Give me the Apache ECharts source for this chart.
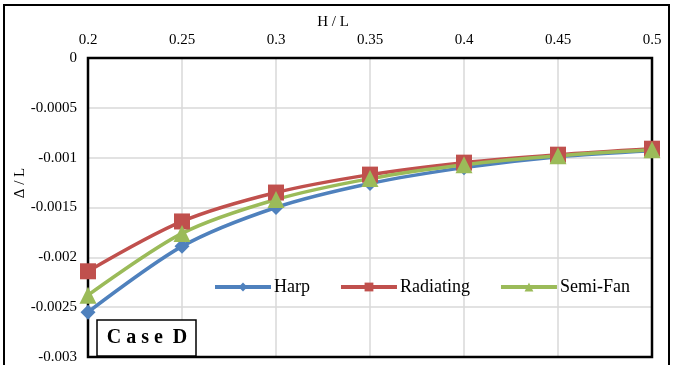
<!DOCTYPE html>
<html>
<head>
<meta charset="utf-8">
<script src="https://cdn.jsdelivr.net/npm/echarts@6/dist/echarts.min.js"></script>
<style>
  html, body { margin: 0; padding: 0; background: #fff; }
  #chart { width: 673px; height: 365px; }
</style>
</head>
<body>
<div id="chart"></div>
<script>
// H / L ratios and Δ / L values
const ratios = [0.2, 0.25, 0.3, 0.35, 0.4, 0.45, 0.5];
const harp = [-0.00255, -0.00189, -0.0015, -0.00126, -0.0011, -0.00099, -0.00093];
const radiating = [-0.00214, -0.00164, -0.00135, -0.00117, -0.00105, -0.00097, -0.00091];
const semiFan = [-0.00238, -0.00176, -0.00142, -0.00121, -0.00107, -0.00098, -0.00092];

const font = '"Liberation Serif", "DejaVu Serif", serif';
const pairs = (ys) => ratios.map((x, i) => [x, ys[i]]);

const chart = echarts.init(document.getElementById('chart'));

const mk = (name, data, color, symbol, size) => ({
  name,
  type: 'line',
  data: pairs(data),
  smooth: 0.3,
  symbol,
  symbolSize: size,
  lineStyle: { width: 3.5, color },
  itemStyle: { color },
  z: 3,
});

chart.setOption({
  animation: false,
  textStyle: { fontFamily: font },
  grid: { left: 88, right: 21, top: 58, bottom: 8 },
  legend: {
    left: 213, top: 278,
    itemWidth: 56, itemHeight: 11, itemGap: 29,
    lineStyle: { width: 4 },
    padding: 0,
    textStyle: { fontFamily: font, fontSize: 18, color: '#000', padding: [0, 0, 0, -2] },
    data: ['Harp', 'Radiating', 'Semi-Fan'],
  },
  xAxis: {
    type: 'value', position: 'top',
    min: 0.2, max: 0.5, interval: 0.05,
    axisLine: { show: false },
    axisTick: { show: false },
    axisLabel: {
      fontFamily: font, fontSize: 15, color: '#000', margin: 10,
      formatter: (v) => String(+v.toFixed(2)),
    },
    splitLine: { lineStyle: { color: '#d9d9d9', width: 1.5 } },
  },
  yAxis: {
    type: 'value',
    min: -0.003, max: 0, interval: 0.0005,
    axisLine: { show: false },
    axisTick: { show: false },
    axisLabel: {
      fontFamily: font, fontSize: 15, color: '#000', margin: 11,
      formatter: (v) => (Math.abs(v) < 1e-12 ? '0' : String(+v.toFixed(4))),
    },
    splitLine: { lineStyle: { color: '#d9d9d9', width: 1.5 } },
  },
  series: [
    mk('Harp', harp, '#4f81bd', 'diamond', 15),
    mk('Radiating', radiating, '#c0504d', 'rect', 16),
    mk('Semi-Fan', semiFan, '#9bbb59', 'triangle', 17),
  ],
  graphic: [
    {
      type: 'rect', silent: true, z: 10,
      shape: { x: 4, y: 5, width: 665, height: 370 },
      style: { fill: 'none', stroke: '#000', lineWidth: 2 },
    },
    {
      type: 'rect', silent: true, z: 1,
      shape: { x: 88, y: 58, width: 564, height: 299 },
      style: { fill: 'none', stroke: '#000', lineWidth: 2.5 },
    },
    {
      type: 'text', z: 11, x: 333, y: 22,
      style: {
        text: 'H / L', fontFamily: font, fontSize: 15, fill: '#000',
        align: 'center', verticalAlign: 'middle',
      },
    },
    {
      type: 'text', z: 11, x: 20, y: 183, rotation: Math.PI / 2,
      style: {
        text: 'Δ / L', fontFamily: font, fontSize: 15, fill: '#000',
        align: 'center', verticalAlign: 'middle',
      },
    },
    {
      type: 'rect', z: 10,
      shape: { x: 97, y: 320, width: 99, height: 36 },
      style: { fill: '#fff', stroke: '#000', lineWidth: 1.5 },
    },
    {
      type: 'text', z: 11,
      x: 147, y: 338,
      style: {
        text: 'C a s e  D',
        fontFamily: font, fontSize: 20, fontWeight: 'bold',
        fill: '#000', align: 'center', verticalAlign: 'middle',
      },
    },
  ],
});
</script>
</body>
</html>
